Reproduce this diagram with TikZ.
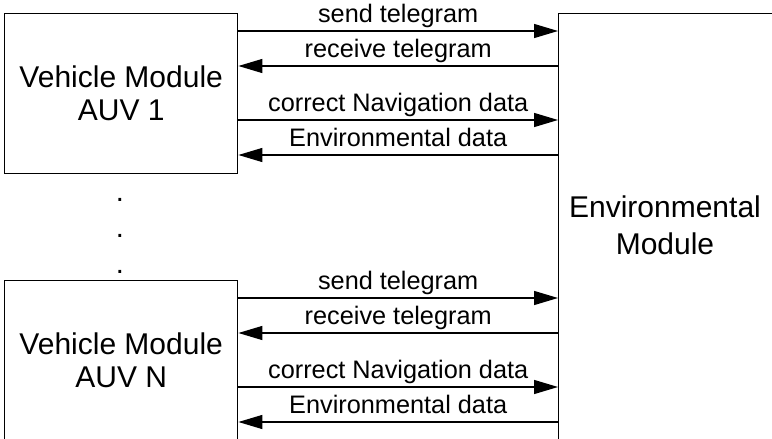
\documentclass[tikz,border=0pt]{standalone}
\usepackage{fontspec}
\setmainfont{Liberation Sans}
\usepackage{tikz}
\usetikzlibrary{positioning,calc,arrows.meta}

\begin{document}
\begin{tikzpicture}[x=1pt, y=-1pt,
    module/.style={draw, line width=1.4pt, minimum width=233pt, minimum height=160pt,
        anchor=north west, align=center, font=\fontsize{30}{33}\selectfont},
    msg/.style={line width=1.3pt, -{Triangle[length=24pt, width=14pt]}},
    lbl/.style={midway, anchor=base, yshift=9pt, inner sep=0pt, font=\fontsize{25.3}{30}\selectfont},
    dot/.style={anchor=base, inner sep=0pt, font=\fontsize{29}{33}\selectfont}]
    \useasboundingbox (0, 0) rectangle (772, 439);

    % Modules
    \node [module] (auv1) at (4, 13) {Vehicle Module\\AUV 1};
    \node [module] (auvn) at (4, 280) {Vehicle Module\\AUV N};
    \node [module, minimum width=240pt, minimum height=460pt] (env) at (558, 13) {};
    \node [font=\fontsize{30}{37}\selectfont, align=center] (envtext) at (665, 225) {Environmental\\Module};

    % Dots between the vehicles
    \foreach \y [count=\i] in {197, 233, 269} {
        \node [dot] (dot\i) at (120, \y+4) {.};
    }

    % Messages
    \foreach \v in {auv1, auvn} {
        \coordinate (\v-send) at ($(\v.north east)+(0, 18)$);
        \coordinate (\v-recv) at ($(\v.north east)+(0, 53)$);
        \coordinate (\v-nav) at ($(\v.north east)+(0, 107)$);
        \coordinate (\v-data) at ($(\v.north east)+(0, 142)$);
        \draw [msg] (\v-send) -- (\v-send -| env.west) node [lbl] {send telegram};
        \draw [msg] (\v-recv -| env.west) -- (\v-recv) node [lbl] {receive telegram};
        \draw [msg] (\v-nav) -- (\v-nav -| env.west) node [lbl] {correct Navigation data};
        \draw [msg] (\v-data -| env.west) -- (\v-data) node [lbl] {Environmental data};
    }
\end{tikzpicture}
\end{document}
